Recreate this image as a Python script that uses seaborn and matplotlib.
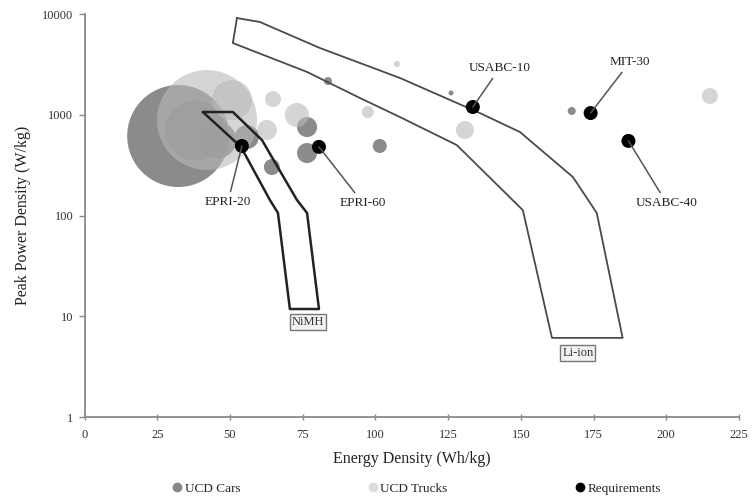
import numpy as np
import pandas as pd
import seaborn as sns
import matplotlib
matplotlib.use("Agg")
import matplotlib.pyplot as plt
from matplotlib.lines import Line2D

# ---- data -------------------------------------------------------------
# UCD passenger-car batteries: energy density (Wh/kg), peak power (W/kg), bubble size
car_energy = [32.2, 55.8, 64.4, 76.5, 76.5, 101.5, 83.7, 126.0, 167.5, 38.0, 46.0]
car_power = [615, 601, 303, 755, 417, 490, 2160, 1645, 1090, 700, 560]
car_size = [51, 12, 8, 10, 10, 7, 4, 2.5, 4, 30, 18]

# UCD truck batteries
truck_energy = [42.1, 50.7, 64.8, 73.0, 62.7, 97.4, 107.4, 130.8, 215.0]
truck_power = [887, 1400, 1432, 995, 706, 1065, 3190, 706, 1535]
truck_size = [50, 20, 8, 12, 10, 6, 3, 9, 8]

# Vehicle requirement targets
req_names = ["EPRI-20", "EPRI-60", "USABC-10", "MIT-30", "USABC-40"]
req_energy = [54.1, 80.6, 133.5, 174.0, 187.0]
req_power = [490, 480, 1194, 1040, 550]
req_label_energy = [49.3, 95.7, 142.8, 187.5, 200.1]
req_label_power = [136, 133, 2910, 3340, 133]

# Technology envelopes (outline vertices)
nimh_energy = [40.7, 51.0, 61.0, 73.0, 76.5, 80.6, 70.6, 66.5, 63.7, 53.8, 40.7]
nimh_power = [1065, 1065, 561, 143, 106, 11.8, 11.8, 106, 143, 479, 1065]

liion_energy = [52.4, 60.3, 80.9, 108.4, 135.9, 149.7, 167.9, 176.1, 185.0,
                160.7, 150.7, 128.0, 108.4, 94.7, 76.5, 51.0, 52.4]
liion_power = [9120, 8330, 4600, 2320, 1040, 674, 241, 106, 6.1,
               6.1, 113, 500, 950, 1466, 2660, 5150, 9120]

x_ticks = [0, 25, 50, 75, 100, 125, 150, 175, 200, 225]
y_ticks = [1, 10, 100, 1000, 10000]
y_tick_labels = ["1", "10", "100", "1000", "10000"]

# ---- figure -------------------------------------------------------------
sns.set_theme(style="white")
plt.rcParams["font.family"] = ["Liberation Serif", "DejaVu Serif"]

fig = plt.figure(figsize=(7.56, 5.04), dpi=100)
ax = fig.add_axes([0.1118, 0.1726, 0.8657, 0.7996])
ax.set_yscale("log")
ax.set_xlim(0, 225)
ax.set_ylim(1, 10000)

DPI = 100.0


def area(radius_px):
    # marker area in pt^2 for a bubble of the given radius in pixels
    d_pt = 2 * np.asarray(radius_px, dtype=float) * 72.0 / DPI
    return d_pt ** 2


cars = pd.DataFrame({"Energy": car_energy, "Power": car_power, "S": area(car_size)})
trucks = pd.DataFrame({"Energy": truck_energy, "Power": truck_power, "S": area(truck_size)})
reqs = pd.DataFrame({"Energy": req_energy, "Power": req_power, "S": area([7] * len(req_energy))})


def bubbles(df, color, alpha, z):
    lo, hi = df["S"].min(), df["S"].max()
    sns.scatterplot(data=df, x="Energy", y="Power", size="S", sizes=(lo, hi),
                    size_norm=(lo, hi), color=color, alpha=alpha, linewidth=0,
                    legend=False, ax=ax, zorder=z)


bubbles(cars, "#777777", 0.85, 2)
bubbles(trucks, "#b9b9b9", 0.6, 3)

# technology envelopes
ax.plot(liion_energy, liion_power, color="#4a4a4a", lw=1.3, zorder=4)
ax.plot(nimh_energy, nimh_power, color="#222222", lw=1.8, zorder=4)

bubbles(reqs, "black", 1.0, 5)

for name, x, y, tx, ty in zip(req_names, req_energy, req_power,
                              req_label_energy, req_label_power):
    ax.annotate(name, xy=(x, y), xytext=(tx, ty), textcoords="data",
                ha="center", va="center", fontsize=9.5, color="#222222",
                arrowprops=dict(arrowstyle="-", color="#555555", lw=1.1,
                                shrinkA=1, shrinkB=0), zorder=6)

box = dict(boxstyle="square,pad=0.15", facecolor="#f2f2f2", edgecolor="#777777", lw=1)
ax.text(76.9, 8.77, "NiMH", ha="center", va="center", fontsize=9,
        color="#333333", bbox=box, zorder=6)
ax.text(169.6, 4.3, "Li-ion", ha="center", va="center", fontsize=9,
        color="#333333", bbox=box, zorder=6)

# ---- axes styling -----------------------------------------------------------
for side in ("top", "right"):
    ax.spines[side].set_visible(False)
for side in ("left", "bottom"):
    ax.spines[side].set_color("#8a8a8a")
    ax.spines[side].set_linewidth(1.3)

ax.set_xticks(x_ticks)
ax.set_xticklabels([str(t) for t in x_ticks])
ax.set_yticks(y_ticks)
ax.set_yticklabels(y_tick_labels)
ax.yaxis.set_minor_locator(matplotlib.ticker.NullLocator())
ax.tick_params(axis="x", direction="inout", length=5, width=1, color="#8a8a8a",
               labelsize=9, labelcolor="#333333", pad=6, bottom=True)
ax.tick_params(axis="y", direction="out", length=4, width=1, color="#8a8a8a",
               labelsize=9, labelcolor="#333333", pad=4, left=True)

ax.set_xlabel("Energy Density (Wh/kg)", fontsize=11.5, color="#222222", labelpad=7)
ax.set_ylabel("Peak Power Density (W/kg)", fontsize=11.5, color="#222222", labelpad=8)

handles = [
    Line2D([], [], marker="o", ls="", color="#888888", markersize=6),
    Line2D([], [], marker="o", ls="", color="#dddddd", markersize=6),
    Line2D([], [], marker="o", ls="", color="black", markersize=6),
]
fig.legend(handles, ["UCD Cars", "UCD Trucks", "Requirements"], loc="lower center",
           bbox_to_anchor=(0.55, -0.005), ncol=3, frameon=False, fontsize=9.5,
           handletextpad=0.1, columnspacing=9.5, handlelength=1.0)

fig.savefig("out.png", dpi=100)
